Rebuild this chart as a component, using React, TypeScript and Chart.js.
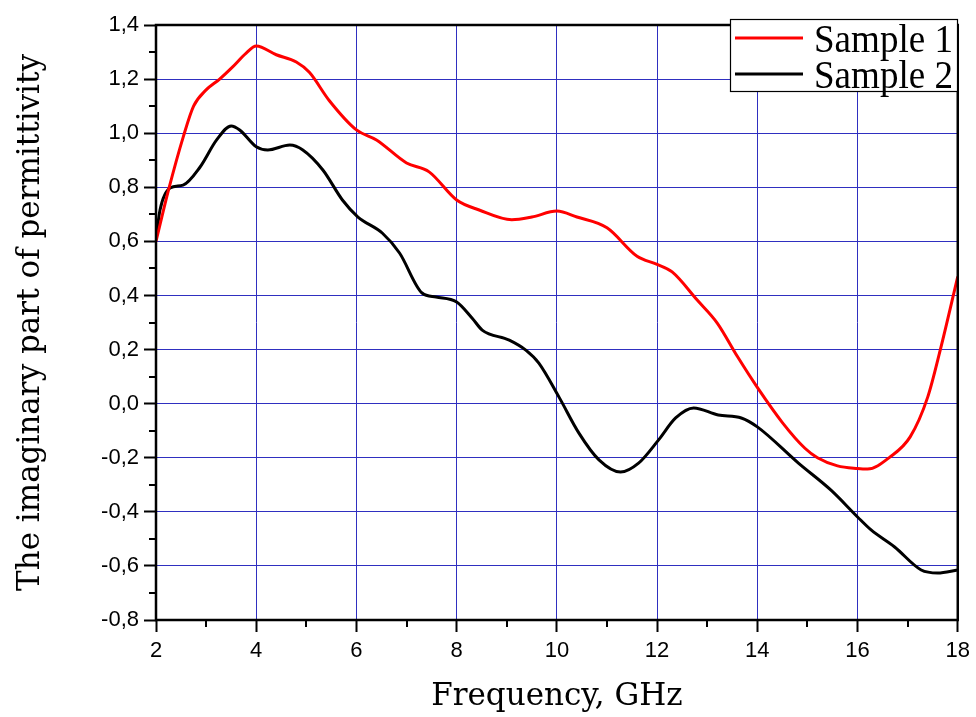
import React, { useEffect, useRef } from "react";
import { Chart, registerables } from "chart.js";

Chart.register(...registerables);

const sample1Freq = [2, 2.25, 2.55, 2.75, 3.0, 3.27, 3.53, 3.8, 4.0, 4.4, 4.8, 5.06, 5.46, 6.0, 6.4, 7.0, 7.45, 8.0, 8.45, 9.1, 9.5, 10.0, 10.4, 11.0, 11.6, 12.0, 12.3, 12.8, 13.2, 13.6, 14.0, 14.5, 14.95, 15.2, 15.6, 16.0, 16.2, 16.65, 17.05, 17.4, 17.65, 18];
const sample1Values = [0.6, 0.79, 0.99, 1.1, 1.16, 1.2, 1.245, 1.296, 1.322, 1.29, 1.263, 1.225, 1.12, 1.012, 0.975, 0.89, 0.857, 0.753, 0.716, 0.68, 0.69, 0.712, 0.69, 0.65, 0.545, 0.515, 0.487, 0.383, 0.298, 0.175, 0.06, -0.07, -0.165, -0.2, -0.23, -0.24, -0.242, -0.197, -0.123, 0.024, 0.198, 0.47];

const sample2Freq = [2, 2.08, 2.28, 2.54, 2.88, 3.21, 3.5, 3.67, 4.0, 4.23, 4.67, 4.93, 5.33, 5.72, 6.03, 6.52, 6.86, 7.31, 7.59, 8.0, 8.31, 8.51, 9.05, 9.38, 9.64, 10.04, 10.44, 10.84, 11.27, 11.63, 12.03, 12.37, 12.73, 13.22, 13.68, 14.0, 14.82, 15.47, 16.0, 16.27, 16.74, 17.27, 17.6, 18];
const sample2Values = [0.61, 0.716, 0.797, 0.808, 0.875, 0.975, 1.027, 1.012, 0.95, 0.938, 0.956, 0.938, 0.864, 0.753, 0.69, 0.63, 0.557, 0.409, 0.394, 0.376, 0.316, 0.272, 0.235, 0.198, 0.15, 0.025, -0.109, -0.208, -0.253, -0.22, -0.134, -0.053, -0.016, -0.042, -0.053, -0.086, -0.22, -0.32, -0.419, -0.467, -0.53, -0.615, -0.626, -0.615];

const seriesLabels = ["Sample 1", "Sample 2"];
const seriesColors = ["#ff0000", "#000000"];
const xMinorTicks = [3, 5, 7, 9, 11, 13, 15, 17];
const yMinorTicks = [-0.7, -0.5, -0.3, -0.1, 0.1, 0.3, 0.5, 0.7, 0.9, 1.1, 1.3];

const xTitle = "Frequency, GHz";
const yTitle = "The imaginary part of permittivity";

const GRID = "#2f2fc0";

const framePlugin = {
  id: "frameAndLegend",
  afterDraw(chart: any) {
    const ctx = chart.ctx;
    const { left, right, top, bottom } = chart.chartArea;
    const xs = chart.scales.x;
    const ys = chart.scales.y;
    ctx.save();
    // minor ticks
    ctx.strokeStyle = "#000";
    ctx.lineWidth = 2;
    ctx.beginPath();
    xMinorTicks.forEach((f) => {
      const px = Math.round(xs.getPixelForValue(f));
      ctx.moveTo(px, bottom);
      ctx.lineTo(px, bottom + 7);
    });
    yMinorTicks.forEach((v) => {
      const py = Math.round(ys.getPixelForValue(v));
      ctx.moveTo(left - 7, py);
      ctx.lineTo(left, py);
    });
    ctx.stroke();
    // frame
    ctx.lineWidth = 2.5;
    ctx.strokeRect(left, top, right - left, bottom - top);

    // legend box
    const bx = 730.5, by = 19.5, bw = 227, bh = 72;
    ctx.fillStyle = "#fff";
    ctx.fillRect(bx, by, bw, bh);
    ctx.lineWidth = 1.2;
    ctx.strokeStyle = "#000";
    ctx.strokeRect(bx, by, bw, bh);
    const rows = [38, 74];
    const bases = [51.5, 87.5];
    seriesLabels.forEach((lab, i) => {
      ctx.strokeStyle = seriesColors[i];
      ctx.lineWidth = 3;
      ctx.beginPath();
      ctx.moveTo(735, rows[i]);
      ctx.lineTo(803, rows[i]);
      ctx.stroke();
      ctx.save();
      ctx.translate(814, bases[i]);
      ctx.scale(1.03, 1.12);
      ctx.fillStyle = "#000";
      ctx.font = "36px 'Liberation Serif'";
      ctx.textBaseline = "alphabetic";
      ctx.textAlign = "left";
      ctx.fillText(lab, 0, 0);
      ctx.restore();
    });
    ctx.restore();
  },
};

export default function App() {
  const ref = useRef<HTMLCanvasElement | null>(null);
  useEffect(() => {
    if (!ref.current) return;
    const chart = new Chart(ref.current, {
      type: "line",
      data: {
        datasets: [
          {
            label: seriesLabels[0],
            data: sample1Freq.map((f, i) => ({ x: f, y: sample1Values[i] })),
            borderColor: seriesColors[0],
            borderWidth: 3,
            pointRadius: 0,
            cubicInterpolationMode: "monotone",
            fill: false,
          },
          {
            label: seriesLabels[1],
            data: sample2Freq.map((f, i) => ({ x: f, y: sample2Values[i] })),
            borderColor: seriesColors[1],
            borderWidth: 3,
            pointRadius: 0,
            cubicInterpolationMode: "monotone",
            fill: false,
          },
        ],
      },
      options: {
        responsive: false,
        animation: false,
        events: [],
        layout: { padding: { left: 0, top: 25, right: 16, bottom: 0 } },
        plugins: { legend: { display: false }, tooltip: { enabled: false }, title: { display: false } },
        scales: {
          x: {
            type: "linear",
            min: 2,
            max: 18,
            afterFit: (s: any) => { s.height = 97; },
            ticks: {
              stepSize: 2,
              color: "#000",
              padding: 6,
              font: { family: "'Liberation Sans'", size: 22 },
              maxRotation: 0,
            },
            grid: { color: GRID, lineWidth: 1, tickColor: "#000", tickLength: 12, tickWidth: 2 },
            border: { display: false },
            title: {
              display: true,
              text: xTitle,
              color: "#000",
              font: { family: "'DejaVu Serif'", size: 31 },
              padding: { top: 1, bottom: 1 },
            },
          },
          y: {
            type: "linear",
            min: -0.8,
            max: 1.4,
            afterFit: (s: any) => { s.width = 156; },
            ticks: {
              stepSize: 0.2,
              color: "#000",
              padding: 5,
              font: { family: "'Liberation Sans'", size: 22 },
              callback: (v: any) => (Math.round(Number(v) * 10) / 10).toFixed(1).replace(".", ","),
            },
            grid: { color: GRID, lineWidth: 1, tickColor: "#000", tickLength: 12, tickWidth: 2 },
            border: { display: false },
            title: {
              display: true,
              text: yTitle,
              color: "#000",
              font: { family: "'DejaVu Serif'", size: 31 },
              padding: { top: 12, bottom: 12 },
            },
          },
        },
      },
      plugins: [framePlugin],
    } as any);
    return () => chart.destroy();
  }, []);
  return (
    <div style={{ position: "fixed", left: 0, top: 0, width: 976, height: 717, background: "#fff" }}>
      <canvas ref={ref} width={976} height={717} style={{ display: "block" }} />
    </div>
  );
}
